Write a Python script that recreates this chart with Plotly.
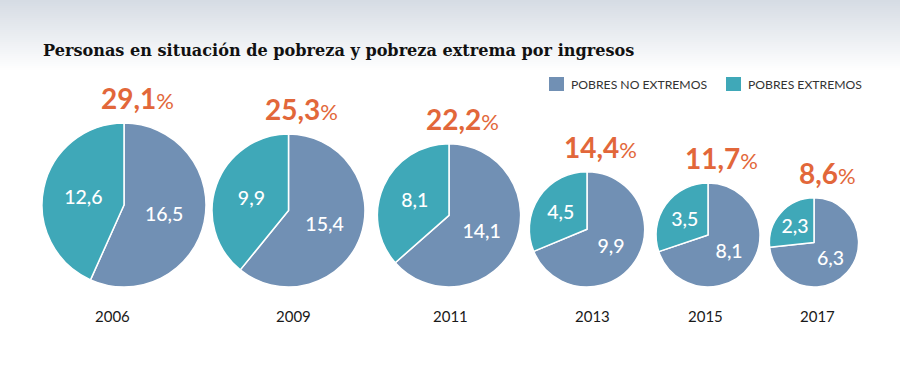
import plotly.graph_objects as go
import math

# ---- data ----
years = ["2006", "2009", "2011", "2013", "2015", "2017"]
pobres_no_extremos = [16.5, 15.4, 14.1, 9.9, 8.1, 6.3]
pobres_extremos = [12.6, 9.9, 8.1, 4.5, 3.5, 2.3]
total_pct = [29.1, 25.3, 22.2, 14.4, 11.7, 8.6]
series_names = ["POBRES NO EXTREMOS", "POBRES EXTREMOS"]
title_text = "Personas en situación de pobreza y pobreza extrema por ingresos"

# ---- layout / style ----
W, H = 900, 372
centers_x = [124, 288.5, 449, 587, 708, 814]   # pie centre columns (px)
year_x = [112, 293, 450, 592, 705, 817]          # year label columns (px)
base_y = 287      # common bottom of all pies (px)
year_y = 316
k = 82 / math.sqrt(29.1)   # area-proportional radius scale
col_no = "#7190B4"
col_ext = "#3FA8B8"
col_pct = "#E2673A"
sans = "Lato, 'Open Sans', sans-serif"
serif = "'DejaVu Serif', serif"
legend_sq_x = [549, 726]
legend_y = 84

fig = go.Figure()
annotations = []
shapes = []

def px_x(v):
    return v / W

def px_y(v):
    return 1 - v / H

# gradient header
n = 36
top_c = (214, 220, 228)
for i in range(n):
    t = i / (n - 1)
    c = tuple(round(top_c[j] + (255 - top_c[j]) * t) for j in range(3))
    y0 = i * 72 / n
    y1 = (i + 1) * 72 / n + 0.6
    shapes.append(dict(type="rect", xref="paper", yref="paper",
                       x0=0, x1=1, y0=px_y(y1), y1=px_y(y0),
                       fillcolor="rgb(%d,%d,%d)" % c, line=dict(width=0), layer="below"))

def fmt(v):
    return ("%.1f" % v).replace(".", ",")

for i, yr in enumerate(years):
    r = k * math.sqrt(total_pct[i])
    cx = centers_x[i]
    cy = base_y - r
    vals = [pobres_no_extremos[i], pobres_extremos[i]]
    fig.add_trace(go.Pie(
        labels=series_names, values=vals,
        text=[fmt(v) for v in vals], textinfo="text",
        textposition="inside", insidetextorientation="horizontal",
        textfont=dict(family=sans, size=19.5, color="white", weight=500),
        marker=dict(colors=[col_no, col_ext], line=dict(color="white", width=1.5)),
        sort=False, direction="clockwise", rotation=0,
        domain=dict(x=[px_x(cx - r), px_x(cx + r)], y=[px_y(cy + r), px_y(cy - r)]),
        showlegend=False, hoverinfo="label+value",
    ))
    annotations.append(dict(
        x=px_x(cx), y=px_y(cy - r - 6), xref="paper", yref="paper",
        xanchor="center", yanchor="bottom", xshift=13, showarrow=False,
        text="<b>%s</b><span style='font-size:22px'>%%</span>" % fmt(total_pct[i]),
        font=dict(family=sans, size=28, color=col_pct),
    ))
    annotations.append(dict(
        x=px_x(year_x[i]), y=px_y(year_y), xref="paper", yref="paper",
        xanchor="center", yanchor="middle", showarrow=False,
        text=yr, font=dict(family=sans, size=15, color="#1a1a1a"),
    ))

# manual legend
for j, name in enumerate(series_names):
    sx = legend_sq_x[j]
    shapes.append(dict(type="rect", xref="paper", yref="paper",
                       x0=px_x(sx), x1=px_x(sx + 15), y0=px_y(legend_y + 7), y1=px_y(legend_y - 7),
                       fillcolor=[col_no, col_ext][j], line=dict(width=0)))
    annotations.append(dict(
        x=px_x(sx + 20), y=px_y(legend_y), xref="paper", yref="paper",
        xanchor="left", yanchor="middle", showarrow=False,
        text=name, font=dict(family=sans, size=12.2, color="#333333"),
    ))

annotations.append(dict(
    x=px_x(41), y=px_y(50), xref="paper", yref="paper",
    xanchor="left", yanchor="middle", showarrow=False,
    text="<b>%s</b>" % title_text,
    font=dict(family=serif, size=16.1, color="#111111"),
))

fig.update_layout(
    width=W, height=H, margin=dict(l=0, r=0, t=0, b=0),
    paper_bgcolor="white", plot_bgcolor="white",
    shapes=shapes, annotations=annotations, showlegend=False,
)

fig.write_html("out.html", config={"displayModeBar": False},
               post_script="document.body.style.margin='0';document.body.style.overflow='hidden';")
